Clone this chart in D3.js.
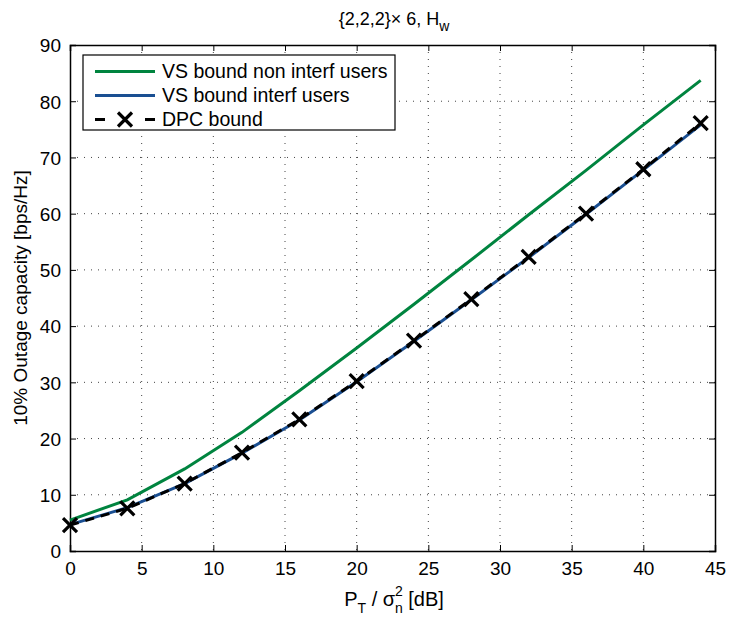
<!DOCTYPE html>
<html><head><meta charset="utf-8">
<script src="https://cdn.jsdelivr.net/npm/d3@7/dist/d3.min.js"></script>
<style>body{margin:0;background:#fff}svg{font-family:"Liberation Sans",Arial,sans-serif}</style>
</head><body><svg id="c" width="730" height="626"></svg>
<script>
const snrDb = [0, 4, 8, 12, 16, 20, 24, 28, 32, 36, 40, 44];
const vsNonInterf = [5.5, 9.1, 14.6, 21.1, 28.5, 36.1, 43.9, 51.8, 59.8, 67.7, 75.8, 83.7];
const vsInterf = [4.7, 7.7, 12.0, 17.4, 23.3, 30.1, 37.3, 44.7, 52.2, 59.9, 67.8, 75.8];
const dpc = [4.6, 7.6, 12.0, 17.5, 23.4, 30.2, 37.4, 44.8, 52.3, 60.0, 67.9, 76.1];
const xTicks = [0, 5, 10, 15, 20, 25, 30, 35, 40, 45];
const yTicks = [0, 10, 20, 30, 40, 50, 60, 70, 80, 90];
const legendLabels = ["VS bound non interf users", "VS bound interf users", "DPC bound"];
const colors = ["#00843f", "#1a4f92", "#000000"];

const svg = d3.select("#c");
const L = 70, R = 715, T = 45, B = 551;
const x = d3.scaleLinear().domain([0, 45]).range([L, R]);
const y = d3.scaleLinear().domain([0, 90]).range([B, T]);

// grid
const g = svg.append("g");
g.selectAll(".gx").data(xTicks.slice(1, -1)).join("line")
  .attr("x1", d => x(d)).attr("x2", d => x(d)).attr("y1", T).attr("y2", B)
  .attr("stroke", "#444").attr("stroke-width", 1).attr("stroke-dasharray", "1,6");
g.selectAll(".gy").data(yTicks.slice(1, -1)).join("line")
  .attr("y1", d => y(d)).attr("y2", d => y(d)).attr("x1", L).attr("x2", R)
  .attr("stroke", "#444").attr("stroke-width", 1).attr("stroke-dasharray", "1,6");

// axes
const ax = svg.append("g").attr("transform", `translate(0,${B})`)
  .call(d3.axisBottom(x).tickValues(xTicks).tickSize(-6).tickPadding(11).tickFormat(d3.format("d")));
const axT = svg.append("g").attr("transform", `translate(0,${T})`)
  .call(d3.axisTop(x).tickValues(xTicks).tickSize(-6).tickFormat(""));
const ay = svg.append("g").attr("transform", `translate(${L},0)`)
  .call(d3.axisLeft(y).tickValues(yTicks).tickSize(-6).tickPadding(9).tickFormat(d3.format("d")));
const ayR = svg.append("g").attr("transform", `translate(${R},0)`)
  .call(d3.axisRight(y).tickValues(yTicks).tickSize(-6).tickFormat(""));
[ax, axT, ay, ayR].forEach(a => {
  a.select(".domain").attr("stroke", "#000").attr("stroke-width", 1.5);
  a.selectAll(".tick line").attr("stroke", "#000").attr("stroke-width", 1);
  a.selectAll("text").attr("font-size", 19).attr("fill", "#000").attr("font-family", "Liberation Sans, Arial, sans-serif");
});
ay.selectAll("text").attr("dy", "0.36em");
ax.selectAll("text").attr("dy", "0.71em");

// lines
const line = d3.line().x((d, i) => x(snrDb[i])).y(d => y(d));
svg.append("path").datum(vsNonInterf).attr("d", line).attr("fill", "none")
  .attr("stroke", colors[0]).attr("stroke-width", 3);
svg.append("path").datum(vsInterf).attr("d", line).attr("fill", "none")
  .attr("stroke", colors[1]).attr("stroke-width", 3);
svg.append("path").datum(dpc).attr("d", line).attr("fill", "none")
  .attr("stroke", colors[2]).attr("stroke-width", 3).attr("stroke-dasharray", "9,7");

const ms = 7;
function cross(sel, cx, cy) {
  sel.append("path")
    .attr("d", `M${cx - ms},${cy - ms}L${cx + ms},${cy + ms}M${cx - ms},${cy + ms}L${cx + ms},${cy - ms}`)
    .attr("stroke", "#000").attr("stroke-width", 3.2).attr("fill", "none");
}
const mk = svg.append("g");
dpc.forEach((d, i) => cross(mk, x(snrDb[i]), y(d)));

// legend
const lg = svg.append("g");
lg.append("rect").attr("x", 83).attr("y", 55).attr("width", 312).attr("height", 75)
  .attr("fill", "#fff").attr("stroke", "#000").attr("stroke-width", 1.2);
const ly = [71.5, 95.5, 119.5];
legendLabels.forEach((lab, i) => {
  const l = lg.append("line").attr("x1", 95).attr("x2", 155).attr("y1", ly[i]).attr("y2", ly[i])
    .attr("stroke", colors[i]).attr("stroke-width", 3);
  if (i === 2) {
    l.attr("stroke-dasharray", "10,40");
    lg.append("line").attr("x1", 145).attr("x2", 155).attr("y1", ly[i]).attr("y2", ly[i])
      .attr("stroke", "#000").attr("stroke-width", 3);
    cross(lg, 125, ly[i]);
  }
  lg.append("text").attr("x", 162).attr("y", ly[i]).attr("dy", "0.35em")
    .attr("font-size", 19.5).text(lab);
});

// title
const title = svg.append("text").attr("x", 394).attr("y", 25).attr("text-anchor", "middle")
  .attr("font-size", 18);
title.append("tspan").text("{2,2,2}× 6, H");
title.append("tspan").attr("dy", 6).attr("font-size", 14).text("w");

// x label
const xl = svg.append("text").attr("x", 394).attr("y", 606).attr("text-anchor", "middle").attr("font-size", 20);
xl.append("tspan").text("P");
xl.append("tspan").attr("dy", 7).attr("font-size", 14).text("T");
xl.append("tspan").attr("dy", -7).text(" / σ");
xl.append("tspan").attr("dy", 7).attr("font-size", 14).text("n");
xl.append("tspan").attr("dy", -17).attr("dx", -8).attr("font-size", 14).text("2");
xl.append("tspan").attr("dy", 10).text(" [dB]");

// y label
svg.append("text").attr("transform", `translate(27,${(T + B) / 2}) rotate(-90)`)
  .attr("text-anchor", "middle").attr("font-size", 19)
  .text("10% Outage capacity [bps/Hz]");
</script></body></html>
